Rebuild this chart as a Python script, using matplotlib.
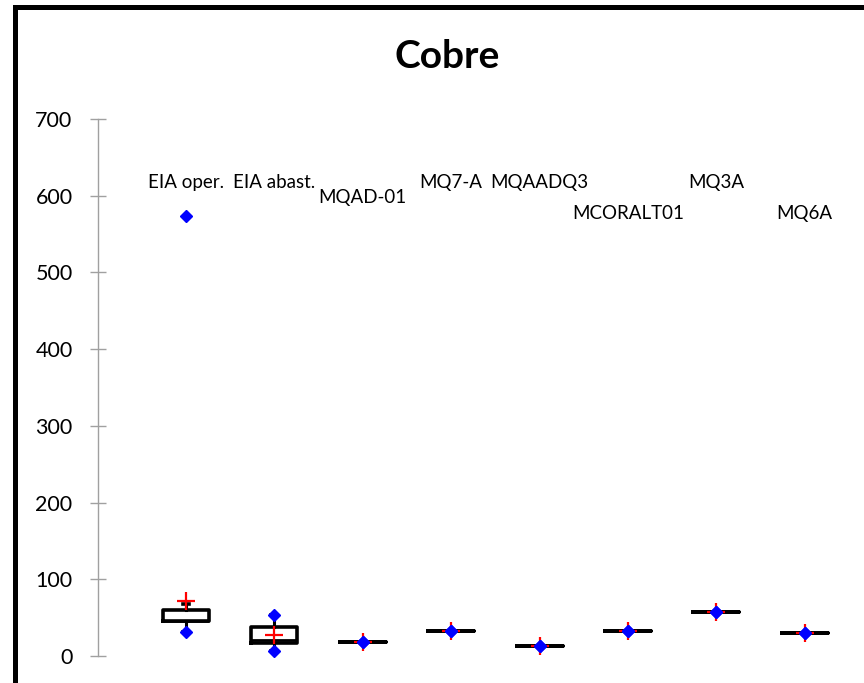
import matplotlib
matplotlib.use("Agg")
import matplotlib.pyplot as plt
from matplotlib.patches import Rectangle

# Copper concentration per sampling site
categories = ['EIA oper.', 'EIA abast.', 'MQAD-01', 'MQ7-A', 'MQAADQ3',
              'MCORALT01', 'MQ3A', 'MQ6A']
q1 = [46, 17, 18, 33, 13, 32.5, 58, 29.5]
median = [46, 21, 18, 33, 13, 32.5, 58, 29.5]
q3 = [60, 38, 18, 33, 13, 32.5, 58, 29.5]
whisker_low = [31, 6.5, 18, 33, 13, 32.5, 58, 29.5]
whisker_high = [68, 53, 18, 33, 13, 32.5, 58, 29.5]
mean = [72, 27, 18, 33, 13, 32.5, 58, 29.5]
minimum = [31, 6.5, 18, 33, 13, 32.5, 58, 29.5]
maximum = [574, 53, 18, 33, 13, 32.5, 58, 29.5]
label_row = [0, 0, 1, 0, 0, 2, 0, 2]
y_ticks = [0, 100, 200, 300, 400, 500, 600, 700]

plt.rcParams['font.family'] = ['Lato', 'DejaVu Sans']

W, H = 864, 683
fig = plt.figure(figsize=(W / 100, H / 100), dpi=100)
fig.patch.set_facecolor('white')

# axes extend past the right edge of the canvas
x0_px, unit_px = 97.6, 88.4
y0_px, y700_px = 656, 119
ax = fig.add_axes([x0_px / W, (H - y0_px) / H,
                   9 * unit_px / W, (y0_px - y700_px) / H])
ax.set_xlim(0, 9)
ax.set_ylim(0, 700)

positions = list(range(1, len(categories) + 1))
stats = []
for i in range(len(categories)):
    stats.append(dict(med=median[i], q1=q1[i], q3=q3[i],
                      whislo=whisker_low[i], whishi=whisker_high[i],
                      mean=mean[i], fliers=[]))

ax.bxp(stats, positions=positions, widths=0.52, capwidths=0.07,
       showmeans=False, showfliers=False, patch_artist=False,
       boxprops=dict(color='black', linewidth=2.6),
       medianprops=dict(color='black', linewidth=2.0),
       whiskerprops=dict(color='black', linewidth=2.2),
       capprops=dict(color='black', linewidth=2.6),
       manage_ticks=False)

for line in ax.lines:
    line.set_clip_on(False)

# mean markers
ax.plot(positions, mean, linestyle='none', marker='+', color='#ff0000',
        markersize=13, markeredgewidth=1.6, clip_on=False, zorder=4)
# minimum and maximum
ax.plot(positions, minimum, linestyle='none', marker='D', color='#0000ff',
        markersize=5.8, clip_on=False, zorder=5)
ax.plot(positions, maximum, linestyle='none', marker='D', color='#0000ff',
        markersize=5.8, clip_on=False, zorder=5)

# category names staggered near the top
for pos, name, row in zip(positions, categories, label_row):
    ax.text(pos, 610 - 20 * row, name, ha='center', va='baseline',
            fontsize=13.5, color='black')

ax.set_yticks(y_ticks)
ax.set_yticklabels([str(v) for v in y_ticks], fontsize=15.5)
ax.set_xticks([])
for side in ('top', 'right', 'bottom'):
    ax.spines[side].set_visible(False)
ax.spines['left'].set_color('#a0a0a0')
ax.spines['left'].set_linewidth(1.0)
ax.tick_params(axis='y', direction='inout', length=12, width=1.0,
               color='#a0a0a0', pad=12, labelcolor='black')

fig.text(447 / W, 1 - 56 / H, 'Cobre', ha='center', va='center',
         fontsize=28, fontweight='bold', color='black')

# outer chart frame
fig.patches.append(Rectangle((14.5 / W, -0.1), 1.2, (H - 6.5) / H + 0.1,
                             transform=fig.transFigure, fill=False,
                             edgecolor='black', linewidth=3.6,
                             clip_on=False))

fig.savefig('out.png', dpi=100, facecolor='white')
